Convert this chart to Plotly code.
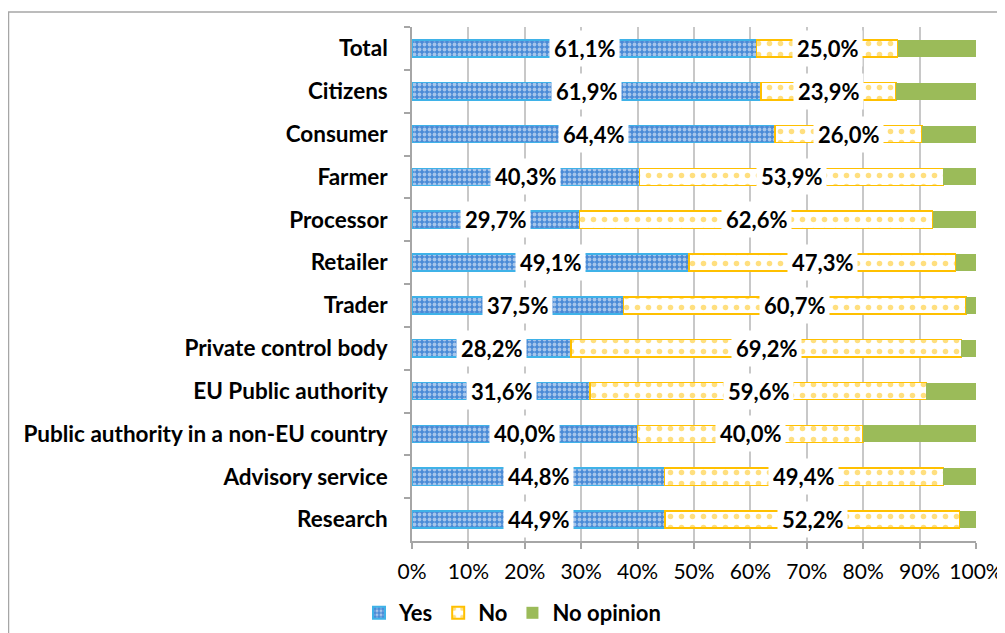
import plotly.graph_objects as go

categories = ["Total", "Citizens", "Consumer", "Farmer", "Processor", "Retailer", "Trader",
              "Private control body", "EU Public authority",
              "Public authority in a non-EU country", "Advisory service", "Research"]
yes_vals = [61.1, 61.9, 64.4, 40.3, 29.7, 49.1, 37.5, 28.2, 31.6, 40.0, 44.8, 44.9]
no_vals = [25.0, 23.9, 26.0, 53.9, 62.6, 47.3, 60.7, 69.2, 59.6, 40.0, 49.4, 52.2]
noop_vals = [13.9, 14.2, 9.6, 5.8, 7.7, 3.6, 1.8, 2.6, 8.8, 20.0, 5.8, 2.9]
x_ticks = [0, 10, 20, 30, 40, 50, 60, 70, 80, 90, 100]

FONT = "Lato"
BLUE = "#4a8ad6"
BLUE_EDGE = "#3fb2e8"
YELLOW = "#ffc000"
GREEN = "#9bbb59"

fig = go.Figure()
fig.add_trace(go.Bar(
    name="Yes", y=categories, x=yes_vals, orientation="h", width=0.4,
    marker=dict(color=BLUE, line=dict(color=BLUE_EDGE, width=1.5),
                pattern=dict(shape=".", fgcolor="white", bgcolor=BLUE, size=5, solidity=0.45)),
))
fig.add_trace(go.Bar(
    name="No", y=categories, x=no_vals, orientation="h", width=0.4,
    marker=dict(color="white", line=dict(color=YELLOW, width=1.5),
                pattern=dict(shape=".", fgcolor=YELLOW, bgcolor="white", size=11, solidity=0.2)),
))
fig.add_trace(go.Bar(
    name="No opinion", y=categories, x=noop_vals, orientation="h", width=0.4,
    marker=dict(color=GREEN, line=dict(color=GREEN, width=0)),
))

def fmt(v):
    return f"{v:.1f}".replace(".", ",") + "%"

annotations = []
for c, y, n in zip(categories, yes_vals, no_vals):
    annotations.append(dict(x=y / 2, y=c, text="<b>" + fmt(y) + "</b>", showarrow=False,
                            bgcolor="white", borderpad=4, xref="x", yref="y",
                            font=dict(family=FONT, size=22, color="black")))
    annotations.append(dict(x=y + n / 2, y=c, text="<b>" + fmt(n) + "</b>", showarrow=False,
                            bgcolor="white", borderpad=4, xref="x", yref="y",
                            font=dict(family=FONT, size=22, color="black")))

# page has an 8px body margin: figure coords = image coords - 8
OFF = 8
W, H = 1005 - OFF, 633 - OFF
L = 412 - OFF
R = W - (976 - OFF)
T = 27 - OFF
B = H - (541 - OFF)
pw = W - L - R
ph = H - T - B
def px_x(p):
    return (p - OFF - L) / pw
def px_y(p):
    return (H - B - (p - OFF)) / ph

fig.update_layout(
    barmode="stack",
    width=W, height=H,
    margin=dict(l=L, r=R, t=T, b=B, autoexpand=False),
    plot_bgcolor="white", paper_bgcolor="white",
    font=dict(family=FONT, color="black"),
    bargap=0.6,
    annotations=annotations,
    showlegend=True,
    legend=dict(orientation="h", x=px_x(359), xanchor="left", y=px_y(613), yanchor="middle",
                font=dict(family=FONT, size=22, color="black", weight="bold"),
                itemwidth=30, traceorder="normal", itemsizing="constant"),
    shapes=[dict(type="rect", xref="paper", yref="paper",
                 x0=px_x(8.5), x1=px_x(1012), y0=px_y(12), y1=px_y(640),
                 line=dict(color="#a6a6a6", width=1.5), fillcolor="rgba(0,0,0,0)", layer="below")],
)
fig.update_xaxes(range=[0, 100], tickvals=x_ticks, ticktext=[f"{t}%" for t in x_ticks],
                 showgrid=True, gridcolor="#c8c8c8", gridwidth=1.5,
                 showline=True, linecolor="#a6a6a6", linewidth=1.5,
                 ticks="outside", ticklen=6, tickcolor="#a6a6a6", tickwidth=1.5,
                 ticklabelstandoff=5, automargin=False,
                 tickfont=dict(family=FONT, size=21, color="black"), zeroline=False,
                 fixedrange=True)
fig.update_yaxes(autorange="reversed", showgrid=False,
                 showline=True, linecolor="#a6a6a6", linewidth=1.5,
                 ticks="outside", ticklen=6, tickcolor="#a6a6a6", tickwidth=1.5,
                 tickson="boundaries", ticklabelstandoff=18, automargin=False,
                 tickfont=dict(family=FONT, size=22.5, color="black", weight="bold"))

fig.write_html("out.html")
